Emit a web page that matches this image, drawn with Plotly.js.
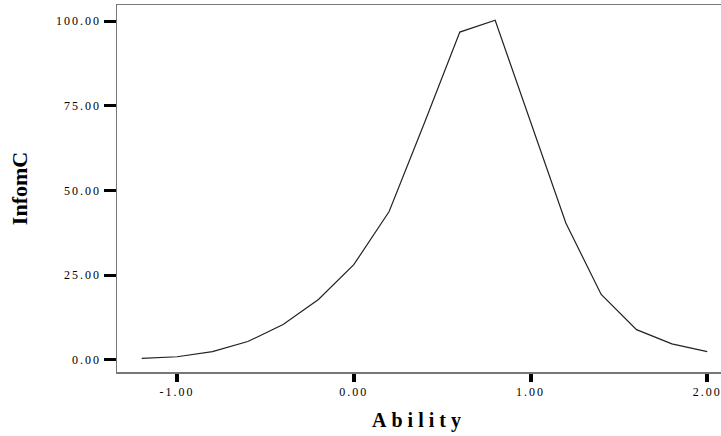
<!DOCTYPE html>
<html>
<head>
<meta charset="utf-8">
<script src="https://cdn.plot.ly/plotly-3.0.1.min.js"></script>
<style>
  html, body { margin: 0; padding: 0; background: #fff; }
  #chart { width: 721px; height: 436px; }
  .xtick text, .ytick text { letter-spacing: 2px; }
  .g-xtitle text { letter-spacing: 5px; }
</style>
</head>
<body>
<div id="chart"></div>
<script>
const ability = [-1.2, -1.0, -0.8, -0.6, -0.4, -0.2, 0.0, 0.2, 0.4, 0.6, 0.8, 1.0, 1.2, 1.4, 1.6, 1.8, 2.0];
const infoC = [0.4, 0.9, 2.4, 5.4, 10.4, 17.8, 28.1, 43.8, 70.0, 96.8, 100.3, 70.5, 40.4, 19.3, 8.9, 4.7, 2.4];
const xTickVals = [-1, 0, 1, 2];
const xTickText = ['-1.00', '0.00', '1.00', '2.00'];
const yTickVals = [0, 25, 50, 75, 100];
const yTickText = ['0.00', '25.00', '50.00', '75.00', '100.00'];

const trace = {
  x: ability,
  y: infoC,
  type: 'scatter',
  mode: 'lines',
  line: { color: '#222', width: 1.2 },
  hoverinfo: 'skip'
};

const layout = {
  width: 721,
  height: 436,
  margin: { l: 117, r: 0, t: 5, b: 64 },
  paper_bgcolor: '#fff',
  plot_bgcolor: '#fff',
  showlegend: false,
  font: { family: 'Liberation Serif, serif', color: '#000', size: 12 },
  xaxis: {
    range: [-1.34, 2.078],
    tickvals: xTickVals,
    ticktext: xTickText,
    ticks: 'outside',
    ticklen: 8,
    tickwidth: 4,
    tickcolor: '#000',
    ticklabeloverflow: 'allow',
    showgrid: false,
    zeroline: false,
    showline: true,
    mirror: true,
    linecolor: '#777',
    linewidth: 1.5,
    tickfont: { family: 'Liberation Serif, serif', size: 12, color: '#000' },
    title: { text: 'Ability', font: { family: 'Liberation Serif, serif', size: 20, color: '#000', weight: 'bold' }, standoff: 15 }
  },
  yaxis: {
    range: [-3.6, 104.8],
    tickvals: yTickVals,
    ticktext: yTickText,
    ticks: 'outside',
    ticklen: 12,
    tickwidth: 3,
    tickcolor: '#000',
    showgrid: false,
    zeroline: false,
    showline: true,
    linecolor: '#777',
    linewidth: 1.5,
    tickfont: { family: 'Liberation Serif, serif', size: 12, color: '#000' },
    title: { text: 'InfomC', font: { family: 'Liberation Serif, serif', size: 22, color: '#000', weight: 'bold' }, standoff: 22 }
  }
};

Plotly.newPlot('chart', [trace], layout, { displayModeBar: false, staticPlot: true });
</script>
</body>
</html>
